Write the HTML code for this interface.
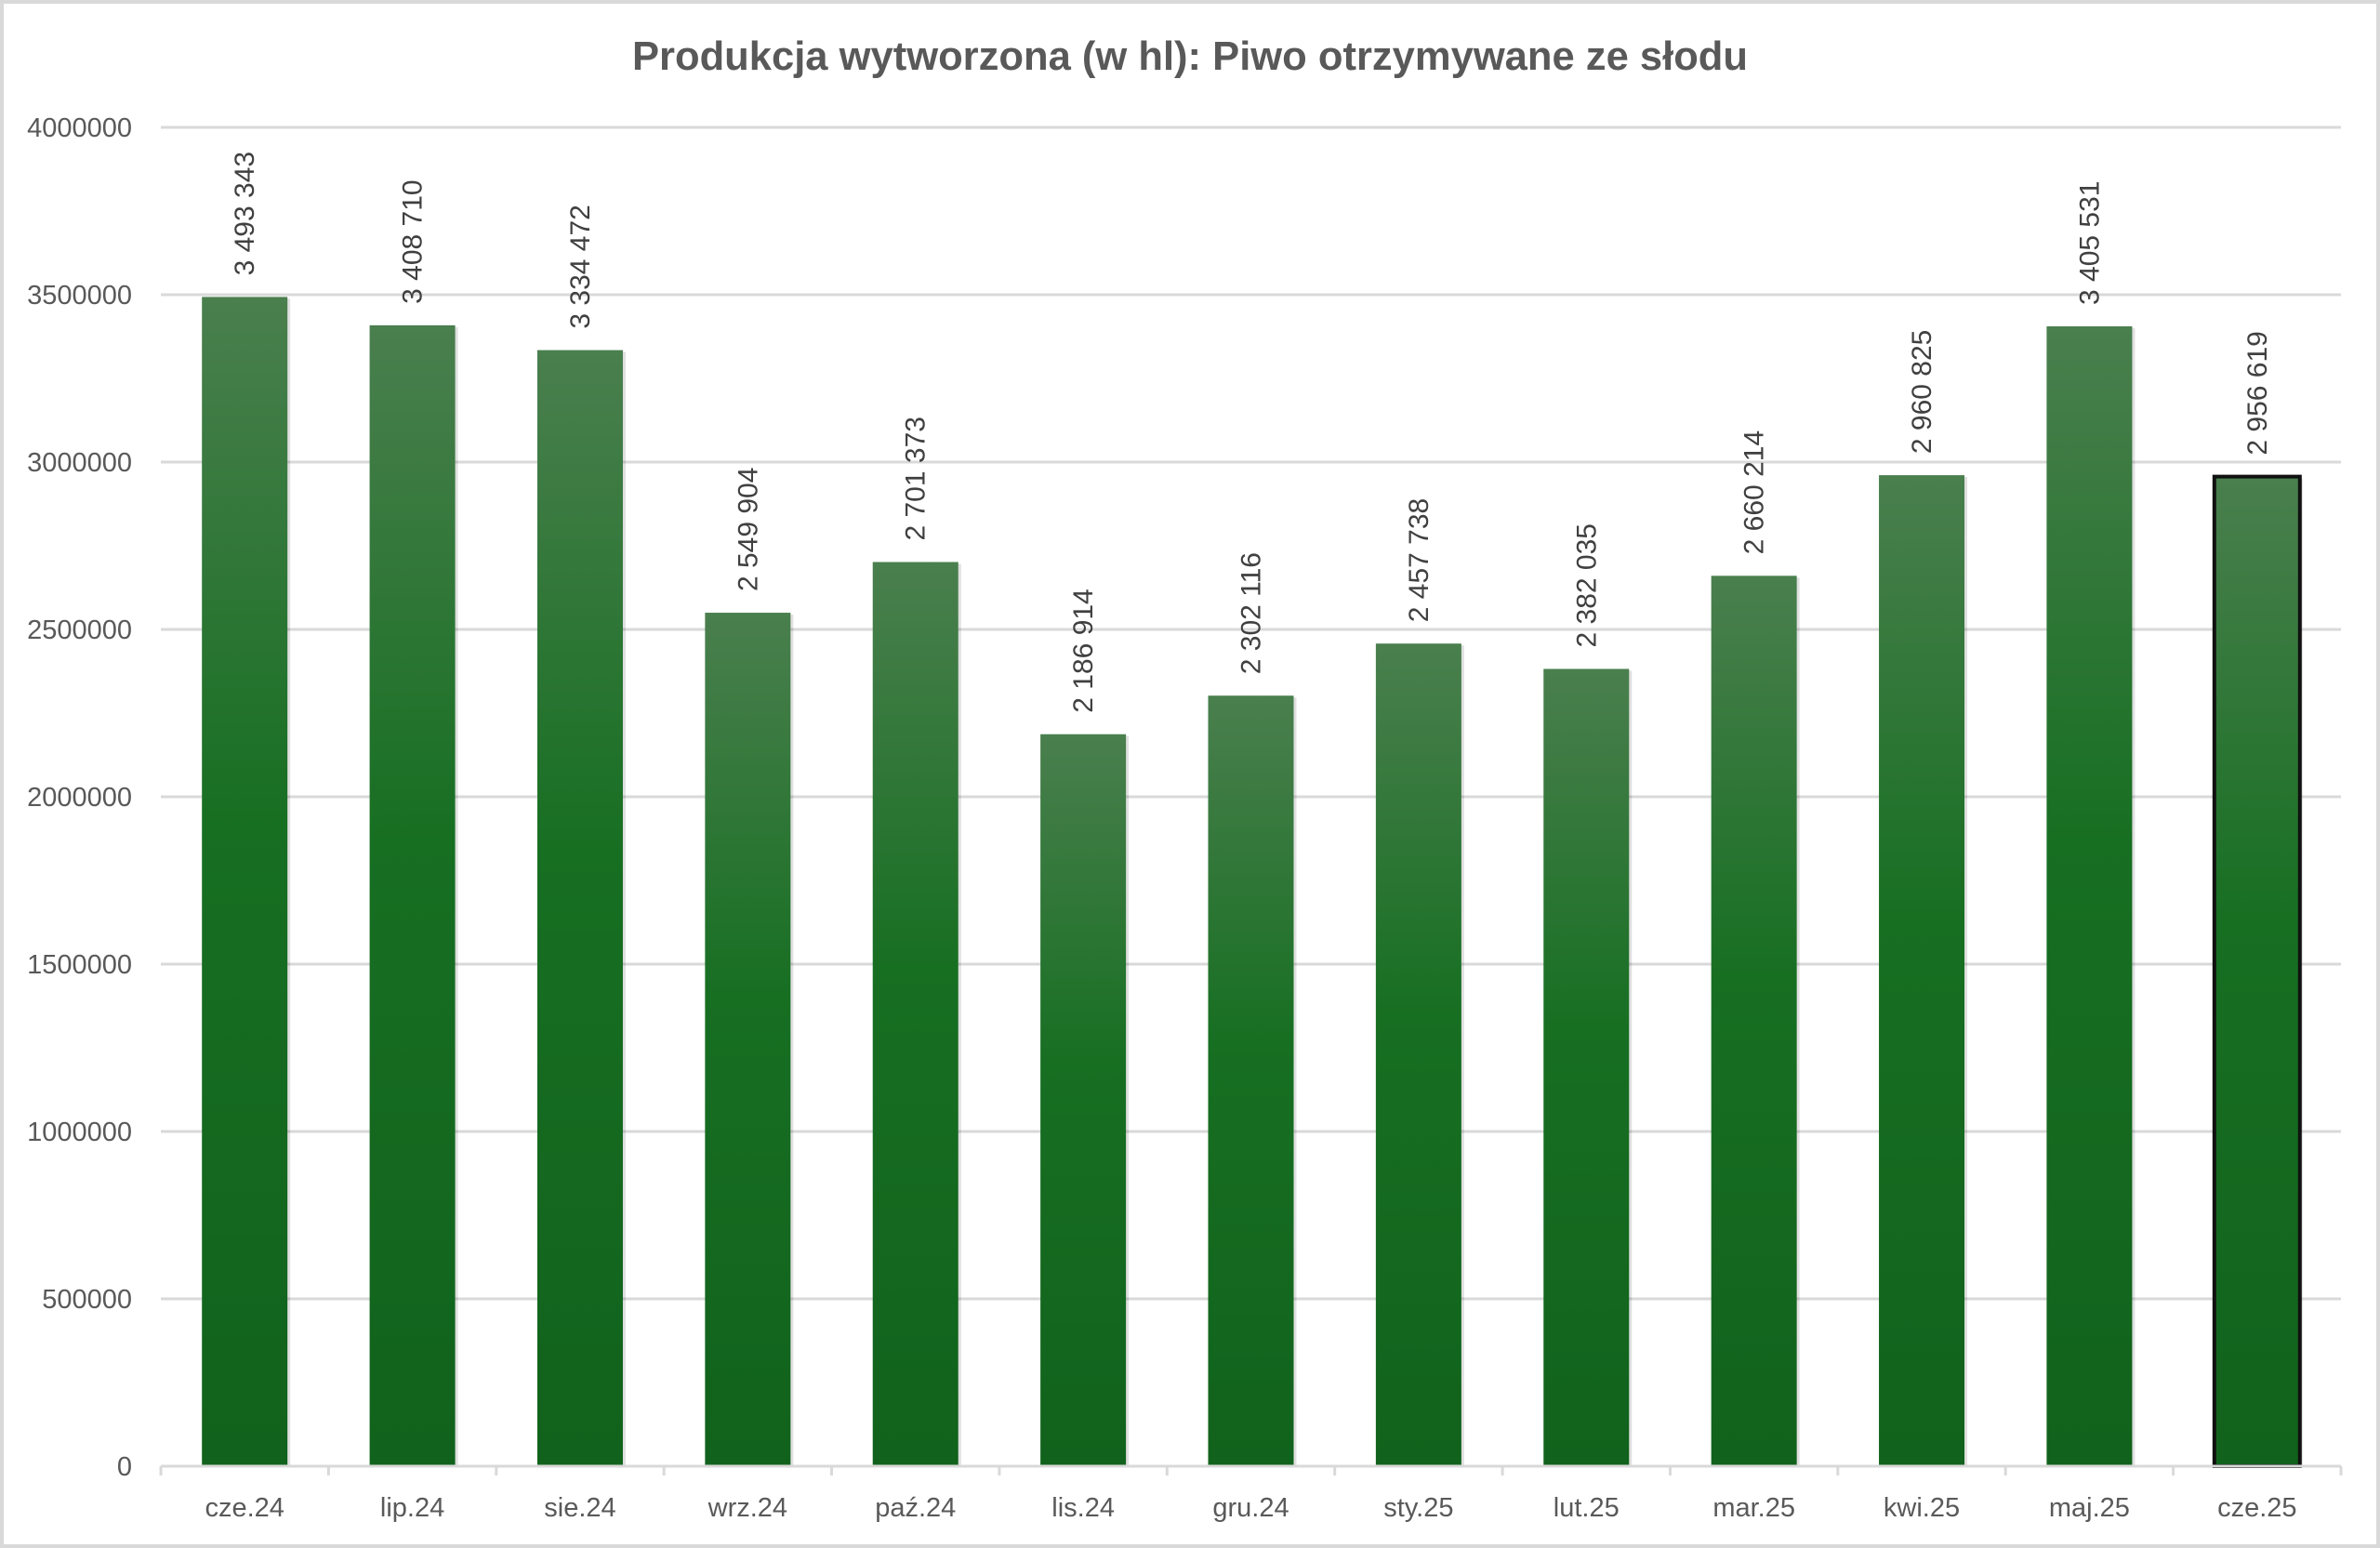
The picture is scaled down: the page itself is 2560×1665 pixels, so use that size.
<!DOCTYPE html>
<html><head><meta charset="utf-8"><style>
html,body{margin:0;padding:0;background:#fff}
svg{display:block;font-family:"Liberation Sans",sans-serif}
</style></head><body>
<svg id="chart" width="2560" height="1665" viewBox="0 0 2560 1665" xmlns="http://www.w3.org/2000/svg">
<defs>
<linearGradient id="g" x1="0" y1="0" x2="0" y2="1">
<stop offset="0" stop-color="#4a7f4e"/><stop offset="0.45" stop-color="#176f22"/><stop offset="1" stop-color="#11621c"/>
</linearGradient>
</defs>
<rect x="2" y="2" width="2556" height="1661" fill="#fff" stroke="#d9d9d9" stroke-width="4"/>
<text x="1280" y="75" text-anchor="middle" font-size="44" font-weight="bold" fill="#595959" textLength="1200" lengthAdjust="spacingAndGlyphs">Produkcja wytworzona (w hl): Piwo otrzymywane ze słodu</text>
<g id="grid"></g><g id="bars"></g><g id="axis"></g>
</svg>
<script>
const categories=["cze.24","lip.24","sie.24","wrz.24","paź.24","lis.24","gru.24","sty.25","lut.25","mar.25","kwi.25","maj.25","cze.25"];
const values=[3493343,3408710,3334472,2549904,2701373,2186914,2302116,2457738,2382035,2660214,2960825,3405531,2956619];
const valueLabels=["3 493 343","3 408 710","3 334 472","2 549 904","2 701 373","2 186 914","2 302 116","2 457 738","2 382 035","2 660 214","2 960 825","3 405 531","2 956 619"];
const yTicks=[0,500000,1000000,1500000,2000000,2500000,3000000,3500000,4000000];
const NS="http://www.w3.org/2000/svg";
const L=173,R=2518,Y0=1577,Y1=137,YMAX=4000000;
const y=v=>Y0-(v/YMAX)*(Y0-Y1);
const bw=(R-L)/categories.length;
const x=i=>L+bw*(i+0.5);
function mk(t,a,p){const e=document.createElementNS(NS,t);for(const k in a)e.setAttribute(k,a[k]);p.appendChild(e);return e;}
const grid=document.getElementById('grid'),bars=document.getElementById('bars'),axis=document.getElementById('axis');
yTicks.forEach(v=>{
 if(v>0){const gl=mk('line',{x1:L,x2:R,y1:y(v),y2:y(v),stroke:'#d9d9d9','stroke-width':3},grid);
 
 }
 const t=mk('text',{x:142,y:y(v)+10,'text-anchor':'end','font-size':29,fill:'#595959'},axis);
 t.textContent=String(v);
 
 
});
const ax=mk('line',{x1:L,x2:R,y1:Y0,y2:Y0,stroke:'#d9d9d9','stroke-width':3},axis);


for(let i=0;i<=categories.length;i++){
 const tk=mk('line',{x1:L+bw*i,x2:L+bw*i,y1:Y0,y2:Y0+10,stroke:'#d9d9d9','stroke-width':3},axis);
 
 
}
categories.forEach((c,i)=>{
 const w=92,cx=x(i),top=y(values[i]);
 const last=i===categories.length-1;
 const sh=mk('rect',{x:cx-w/2+3,y:top+2,width:w,height:Y0-top-2,fill:'#000',opacity:0.12},bars);
 
 
 const b=mk('rect',{x:cx-w/2,y:top,width:w,height:Y0-top,fill:'url(#g)',stroke:last?'#111':'none','stroke-width':last?4:0},bars);
 
 
 const lx=cx+10,ly=top-23;
 const vl=mk('text',{x:lx,y:ly,'font-size':30,fill:'#404040',transform:`rotate(-90 ${lx} ${ly})`},bars);
 vl.textContent=valueLabels[i];
 
 
 const xl=mk('text',{x:cx,y:1631,'text-anchor':'middle','font-size':29,fill:'#595959'},axis);
 xl.textContent=c;
 
 
});
</script>
</body></html>
